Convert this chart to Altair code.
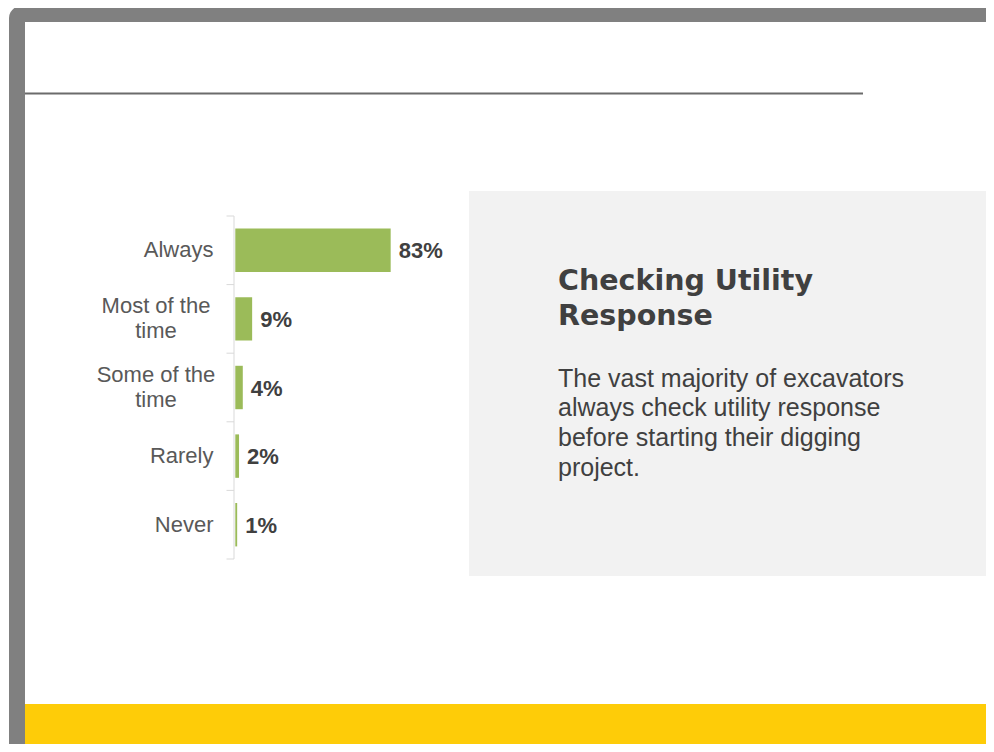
import altair as alt
import pandas as pd

# ---- data ----
categories = ["Always", "Most of the time", "Some of the time", "Rarely", "Never"]
display_labels = ["Always", "Most of the\ntime", "Some of the\ntime", "Rarely", "Never"]
values = [83, 9, 4, 2, 1]
value_labels = ["83%", "9%", "4%", "2%", "1%"]
multiline = [False, True, True, False, False]

title_text = "Checking Utility\nResponse"
body_text = ("The vast majority of excavators\nalways check utility response\n"
             "before starting their digging\nproject.")

df = pd.DataFrame({
    "category": categories,
    "display": display_labels,
    "value": values,
    "label": value_labels,
    "multi": multiline,
})
bounds = pd.DataFrame({"b": list(range(len(categories) + 1))})
one = pd.DataFrame({"k": [0]})

W, H = 978, 736

Y0, Y1 = 208, 551
y_scale = alt.Scale(domain=categories, range=[Y0, Y1],
                    paddingInner=0.367, paddingOuter=0.1835)
x_scale = alt.Scale(domain=[0, 100], range=[227.3, 414.5])

# ---- decorations ----
outer = alt.Chart(one).mark_rect(color="#808080", cornerRadiusTopLeft=12).encode(
    x=alt.value(1), x2=alt.value(W + 20), y=alt.value(-2), y2=alt.value(H + 20))
inner = alt.Chart(one).mark_rect(color="#ffffff").encode(
    x=alt.value(17), x2=alt.value(W + 20), y=alt.value(14), y2=alt.value(696))
yellow = alt.Chart(one).mark_rect(color="#fecc08").encode(
    x=alt.value(17), x2=alt.value(W + 20), y=alt.value(696), y2=alt.value(H))
hline = alt.Chart(one).mark_rule(color="#6b6b6b", strokeWidth=2).encode(
    x=alt.value(17), x2=alt.value(855), y=alt.value(85.5))
panel = alt.Chart(one).mark_rect(color="#f2f2f2").encode(
    x=alt.value(461), x2=alt.value(W + 20), y=alt.value(183), y2=alt.value(568))
title = alt.Chart(one).mark_text(
    align="left", baseline="alphabetic", font="DejaVu Sans", fontWeight="bold",
    fontSize=28.5, color="#404040", lineBreak="\n", lineHeight=35).encode(
    x=alt.value(550), y=alt.value(281.5), text=alt.value(title_text))
body = alt.Chart(one).mark_text(
    align="left", baseline="alphabetic", font="Liberation Sans",
    fontSize=25, color="#404040", lineBreak="\n", lineHeight=29.7).encode(
    x=alt.value(550), y=alt.value(378.7), text=alt.value(body_text))

# ---- axis (domain line + band-boundary ticks) ----
domain = alt.Chart(one).mark_rule(color="#d9d9d9", strokeWidth=1).encode(
    x=alt.value(226), y=alt.value(Y0), y2=alt.value(Y1))
ticks = alt.Chart(bounds).mark_rule(color="#d9d9d9", strokeWidth=1).encode(
    y=alt.Y("b:Q", scale=alt.Scale(domain=[0, len(categories)], range=[Y0, Y1]),
            axis=None),
    x=alt.value(218.5), x2=alt.value(226))

# ---- bar chart ----
bars = alt.Chart(df).mark_bar(color="#9bbb59").encode(
    y=alt.Y("category:N", scale=y_scale, sort=categories, axis=None),
    x=alt.X("value:Q", scale=x_scale, axis=None),
)
vals = alt.Chart(df).mark_text(
    align="left", baseline="middle", dx=8, dy=1, font="Liberation Sans",
    fontWeight="bold", fontSize=22, color="#404040").encode(
    y=alt.Y("category:N", scale=y_scale, sort=categories, axis=None),
    x=alt.X("value:Q", scale=x_scale, axis=None),
    text="label:N",
)
cat_single = alt.Chart(df).transform_filter("!datum.multi").mark_text(
    align="right", baseline="middle", font="Liberation Sans", fontSize=22,
    color="#595959").encode(
    y=alt.Y("category:N", scale=y_scale, sort=categories, axis=None),
    x=alt.value(205.5),
    text="display:N",
)
cat_multi = alt.Chart(df).transform_filter("datum.multi").mark_text(
    align="center", baseline="middle", dy=-12.5, font="Liberation Sans",
    fontSize=22, color="#595959", lineBreak="\n", lineHeight=25).encode(
    y=alt.Y("category:N", scale=y_scale, sort=categories, axis=None),
    x=alt.value(148),
    text="display:N",
)

chart = alt.layer(
    outer, inner, yellow, hline, panel, title, body,
    domain, ticks, bars, vals, cat_single, cat_multi
).resolve_scale(
    y="independent", x="independent"
).properties(
    width=W, height=H, padding=0, autosize=alt.AutoSizeParams(type="none"),
    background="#ffffff"
).configure_view(stroke=None)

chart.save("out.html", embed_options={"renderer": "svg", "actions": False})
